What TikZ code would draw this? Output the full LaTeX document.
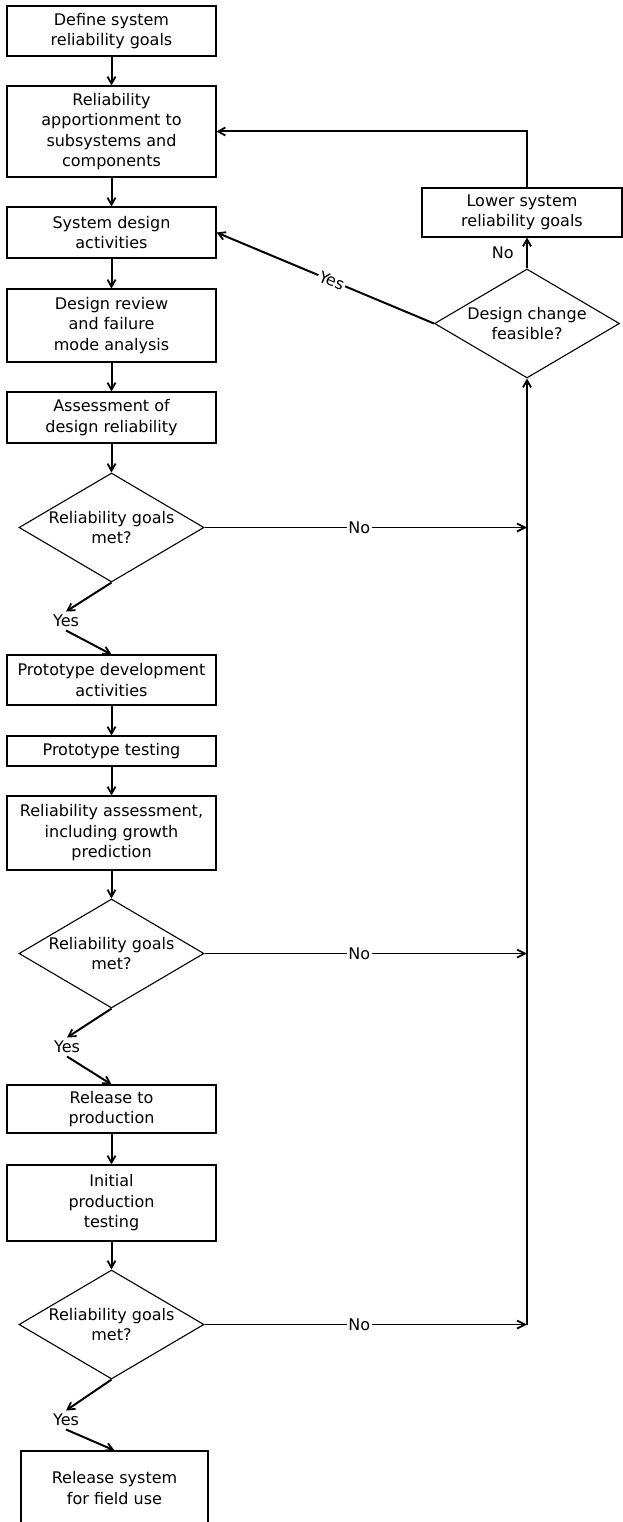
\documentclass[tikz,border=0pt]{standalone}
\usepackage{fontspec}
\setmainfont{DejaVu Sans}
\usetikzlibrary{shapes.geometric, arrows.meta}

\begin{document}
\begin{tikzpicture}[x = 1pt, y = -1pt,
		every node/.style = {font = \fontsize{16}{20.5}\selectfont},
		stage/.style = {draw, line width = 1.1pt, minimum width = 209pt, align = center, inner sep = 0pt},
		query/.style = {draw, diamond, line width = 1.1pt, aspect = 1.7, minimum width = 185pt, minimum height = 109pt, align = center, inner sep = 0pt},
		flow/.style = {line width = 2pt, -{Straight Barb[length = 7pt, width = 8pt, line width = 1.8pt]}},
		side/.style = {line width = 1.6pt, -{Straight Barb[length = 8pt, width = 8pt, line width = 1.8pt]}},
		tag/.style = {fill = white, inner sep = 1.5pt}]
	
		\useasboundingbox (0, 0) rectangle (623, 1522);
		\clip (0, 0) rectangle (623, 1522);
		
		\node[stage, minimum height = 50pt] (defGoals) at (111.5, 31) {Define system\\reliability goals};
		\node[stage, minimum height = 91pt] (apportion) at (111.5, 131.5) {Reliability\\apportionment to\\subsystems and\\components};
		\node[stage, minimum height = 51pt] (sysDesign) at (111.5, 232.5) {System design\\activities};
		\node[stage, minimum height = 73pt] (review) at (111.5, 325.5) {Design review\\and failure\\mode analysis};
		\node[stage, minimum height = 51pt] (assess) at (111.5, 417.5) {Assessment of\\design reliability};
		\node[query] (goalsA) at (111.5, 527.5) {Reliability goals\\met?};
		\node (yesA) at (66, 621) {Yes};
		\node[stage, minimum height = 50pt] (protoDev) at (111.5, 680) {Prototype development\\activities};
		\node[stage, minimum height = 30pt] (protoTest) at (111.5, 751) {Prototype testing};
		\node[stage, minimum height = 74pt] (growth) at (111.5, 833) {Reliability assessment,\\including growth\\prediction};
		\node[query] (goalsB) at (111.5, 953.5) {Reliability goals\\met?};
		\node (yesB) at (67, 1047) {Yes};
		\node[stage, minimum height = 48pt] (release) at (111.5, 1109) {Release to\\production};
		\node[stage, minimum height = 76pt] (initTest) at (111.5, 1203) {Initial\\production\\testing};
		\node[query] (goalsC) at (111.5, 1324.5) {Reliability goals\\met?};
		\node (yesC) at (66, 1420) {Yes};
		\node[stage, minimum width = 187pt, minimum height = 74pt] (fieldUse) at (114.5, 1488) {Release system\\for field use};
		
		\node[query] (changeOk) at (527, 323.5) {Design change\\feasible?};
		\node[stage, minimum width = 200pt, minimum height = 49pt] (lowerGoals) at (522, 212.5) {Lower system\\reliability goals};
		
		\coordinate (joinA) at (changeOk.south |- goalsA.east);
		\coordinate (joinB) at (changeOk.south |- goalsB.east);
		\coordinate (joinC) at (changeOk.south |- goalsC.east);
		
		\draw[flow] (defGoals) -- (apportion);
		\draw[flow] (apportion) -- (sysDesign);
		\draw[flow] (sysDesign) -- (review);
		\draw[flow] (review) -- (assess);
		\draw[flow] (assess) -- (goalsA);
		\draw[flow] (goalsA.south) -- (yesA.north);
		\draw[flow] (yesA.south) -- (protoDev.north);
		\draw[flow] (protoDev) -- (protoTest);
		\draw[flow] (protoTest) -- (growth);
		\draw[flow] (growth) -- (goalsB);
		\draw[flow] (goalsB.south) -- (yesB.north);
		\draw[flow] (yesB.south) -- (release.north);
		\draw[flow] (release) -- (initTest);
		\draw[flow] (initTest) -- (goalsC);
		\draw[flow] (goalsC.south) -- (yesC.north);
		\draw[flow] (yesC.south) -- (fieldUse.north);
		
		\draw[side] (goalsA.east) -- node[tag, pos = 0.48] {No} (joinA);
		\draw[side] (goalsB.east) -- node[tag, pos = 0.48] {No} (joinB);
		\draw[side] (goalsC.east) -- node[tag, pos = 0.48] {No} (joinC);
		\draw[flow] (joinC) -- (changeOk.south);
		
		\draw[flow] (changeOk.north) -- node[left = 9pt] {No} (changeOk.north |- lowerGoals.south);
		\draw[flow] (changeOk.north |- lowerGoals.north) |- (apportion.east);
		\draw[flow] (changeOk.west) -- node[tag, sloped, pos = 0.47] {Yes} (sysDesign.east);
	
	\end{tikzpicture}
\end{document}
